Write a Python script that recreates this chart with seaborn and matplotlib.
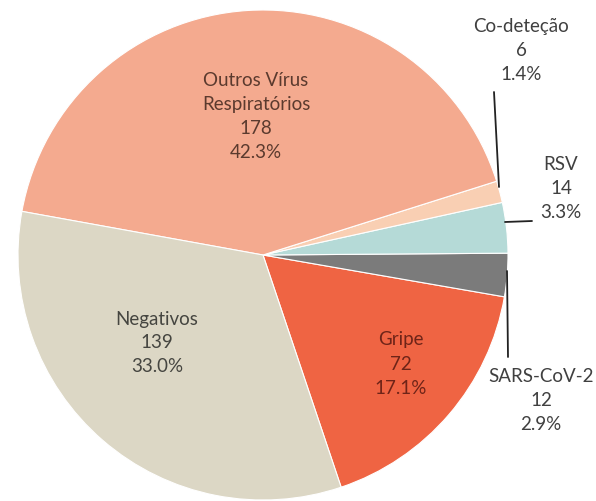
import seaborn as sns
import matplotlib.pyplot as plt

categories = ["Gripe", "SARS-CoV-2", "RSV", "Co-deteção", "Outros Vírus\nRespiratórios", "Negativos"]
counts = [72, 12, 14, 6, 178, 139]
colors = ["#EF6443", "#7B7B7B", "#B5DAD7", "#F9CFB3", "#F4AA8F", "#DCD7C5"]

sns.set_theme(style="white")
plt.rcParams['font.family'] = ['Lato', 'DejaVu Sans']

W, H = 596, 502
cx, cy, R = 263, 256, 245

fig = plt.figure(figsize=(W / 100, H / 100), dpi=100)
ax = fig.add_axes([0, 0, 1, 1])

total = sum(counts)
wedges, _ = ax.pie(counts, colors=colors, startangle=-71.4, counterclock=True,
                   radius=1, wedgeprops=dict(edgecolor="white", linewidth=0.8))

# pie() resets limits, so set them afterwards
ax.set_xlim(-cx / R, (W - cx) / R)
ax.set_ylim(-(H - cy) / R, cy / R)
ax.set_aspect("auto")
ax.axis("off")


def px(x, y):
    return ((x - cx) / R, (cy - y) / R)


# label pixel positions (centre of text block) and text colours
label_pos = [(401, 364), (541, 400), (561, 188), (521, 50), (256, 116), (157, 343)]
label_col = ["#6E2418", "#404040", "#404040", "#404040", "#5B3A2E", "#454540"]

for name, n, pos, col in zip(categories, counts, label_pos, label_col):
    txt = f"{name}\n{n}\n{n / total * 100:.1f}%"
    x, y = px(*pos)
    ax.text(x, y, txt, ha="center", va="center", fontsize=13.5, color=col,
            linespacing=1.5)

# leader lines
leaders = [((494, 93), (499, 188)), ((505, 223), (532, 222)), ((507, 272), (508, 358))]
for a, b in leaders:
    xa, ya = px(*a)
    xb, yb = px(*b)
    ax.plot([xa, xb], [ya, yb], color="#222222", lw=1.3)

plt.savefig("out.png", dpi=100)
